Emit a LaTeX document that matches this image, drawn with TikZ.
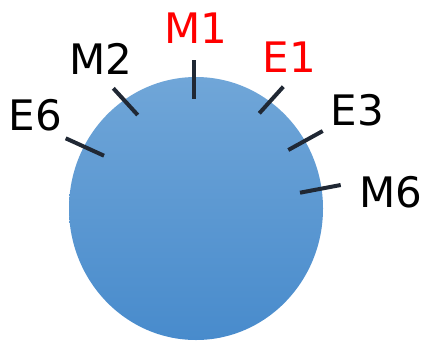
\documentclass[tikz,border=0pt]{standalone}
\usepackage{fontspec}
\setmainfont{DejaVu Sans}
\definecolor{tickcol}{RGB}{32,40,52}
\definecolor{balltop}{RGB}{112,166,216}
\definecolor{ballbot}{RGB}{72,139,204}
\begin{document}
\begin{tikzpicture}[x=1pt,y=-1pt,
  tick/.style={line width=4pt,draw=tickcol},
  lbl/.style={font=\fontsize{42}{42}\selectfont,inner sep=0pt,anchor=center},
  redlbl/.style={lbl,text=red}]
\useasboundingbox (0,0) rectangle (427,343);
\shade[top color=balltop,bottom color=ballbot]
  (196,208.5) ellipse [x radius=127, y radius=131.5];
% ticks
\draw[tick] (194.3,60) -- (194.3,99.3);
\draw[tick] (283.3,86.7) -- (259.3,113.3);
\draw[tick] (322.7,131) -- (288.3,150);
\draw[tick] (340.7,185) -- (300,192.7);
\draw[tick] (113.3,88.3) -- (137.7,115);
\draw[tick] (65.7,138.3) -- (104,155.7);
% labels
\node[redlbl] (m1) at (195.5,28) {M1};
\node[redlbl] (e1) at (289.5,57.5) {E1};
\node[lbl] (m2) at (101,58.5) {M2};
\node[lbl] (e6) at (35.5,115) {E6};
\node[lbl] (e3) at (357.5,110) {E3};
\node[lbl] (m6) at (391,192) {M6};
\end{tikzpicture}
\end{document}
